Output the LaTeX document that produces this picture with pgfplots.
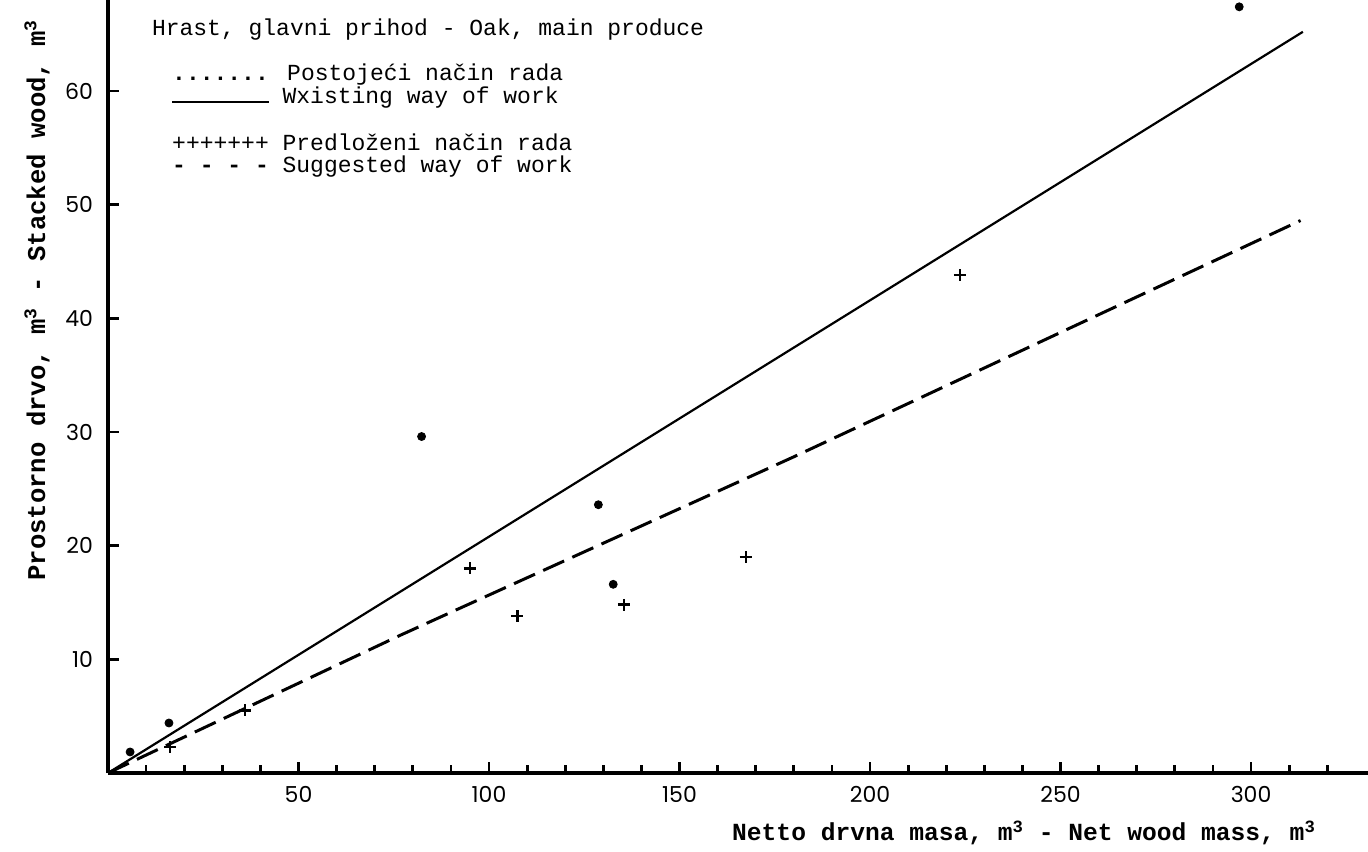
\documentclass[border=0pt]{standalone}
\usepackage{fontspec}
\setmainfont{Liberation Mono}
\newfontfamily\tickfont{Poppins}
\usepackage{pgfplots}
\pgfplotsset{compat=1.18}
\newcommand{\tw}{\fontsize{11.5}{14}\selectfont}
\newcommand{\lab}{\fontsize{12.3}{14}\selectfont\bfseries}
\begin{document}
\begin{tikzpicture}
\begin{axis}[
	at={(0,0)}, anchor=south west,
	scale only axis,
	width=630pt, height=386.5pt,
	xmin=0, xmax=330.7, ymin=0, ymax=68,
	axis lines*=left,
	axis line style={line width=1.6pt},
	tick align=inside,
	xtick={50,100,...,300},
	minor xtick={10,20,...,320},
	ytick={10,20,...,60},
	major tick length=5.5pt, minor tick length=4pt,
	every tick/.style={black, line width=1.4pt},
	/pgf/number format/assume math mode=true,
	xticklabel style={font=\tickfont\fontsize{11}{13}\selectfont, yshift=-3pt},
	yticklabel style={font=\tickfont\fontsize{11}{13}\selectfont, xshift=-4pt},
	xlabel={Netto drvna masa, m\textsuperscript{3} - Net wood mass, m\textsuperscript{3}},
	ylabel={Prostorno drvo, m\textsuperscript{3} - Stacked wood, m\textsuperscript{3}},
	xlabel style={font=\lab, at={(axis description cs:0.727,-0.0776)}, anchor=center},
	ylabel style={font=\lab\fontsize{12.8}{14}\selectfont, at={(axis description cs:-0.0563,0.612)}, anchor=center},
	clip=false,
]
% postojeci nacin rada - tocke i pravac
\addplot[only marks, mark=*, mark size=2pt, black] coordinates {
	(5.8,1.85) (16,4.4) (82.3,29.6) (128.7,23.6) (132.6,16.6) (296.9,67.4)};
\addplot[black, line width=1.1pt] coordinates {(0,0) (313.6,65.2)};
% predlozeni nacin rada
\addplot[only marks, mark=+, mark size=3pt, black, mark options={line width=1.3pt}] coordinates {
	(16.3,2.3) (36,5.5) (95,18.0) (107.4,13.8) (135.4,14.8) (167.4,19.0) (223.6,43.8)};
\addplot[black, line width=1.5pt, dash pattern=on 11.5pt off 4.5pt] coordinates {
	(0,0) (76.6,12.1) (179.9,27.8) (313,48.6)};

\node[anchor=base west, font=\tw] at (axis cs:9.7,64.9) {Hrast, glavni prihod - Oak, main produce};
\node[anchor=base west, font=\tw] at (axis cs:15,60.9) {\textbf{.......} Postoje\'{c}i na\v{c}in rada};
\node[anchor=base west, font=\tw] at (axis cs:15,58.9) {\rule{48.3pt}{1.2pt} Wxisting way of work};
\node[anchor=base west, font=\tw] at (axis cs:15,54.8) {+++++++ Predlo\v{z}eni na\v{c}in rada};
\node[anchor=base west, font=\tw] at (axis cs:15,52.8) {\textbf{- - - -} Suggested way of work};
\end{axis}
\pgfresetboundingbox
\path[use as bounding box] (-54pt,-39pt) rectangle (630pt,386.5pt);
\end{tikzpicture}
\end{document}
